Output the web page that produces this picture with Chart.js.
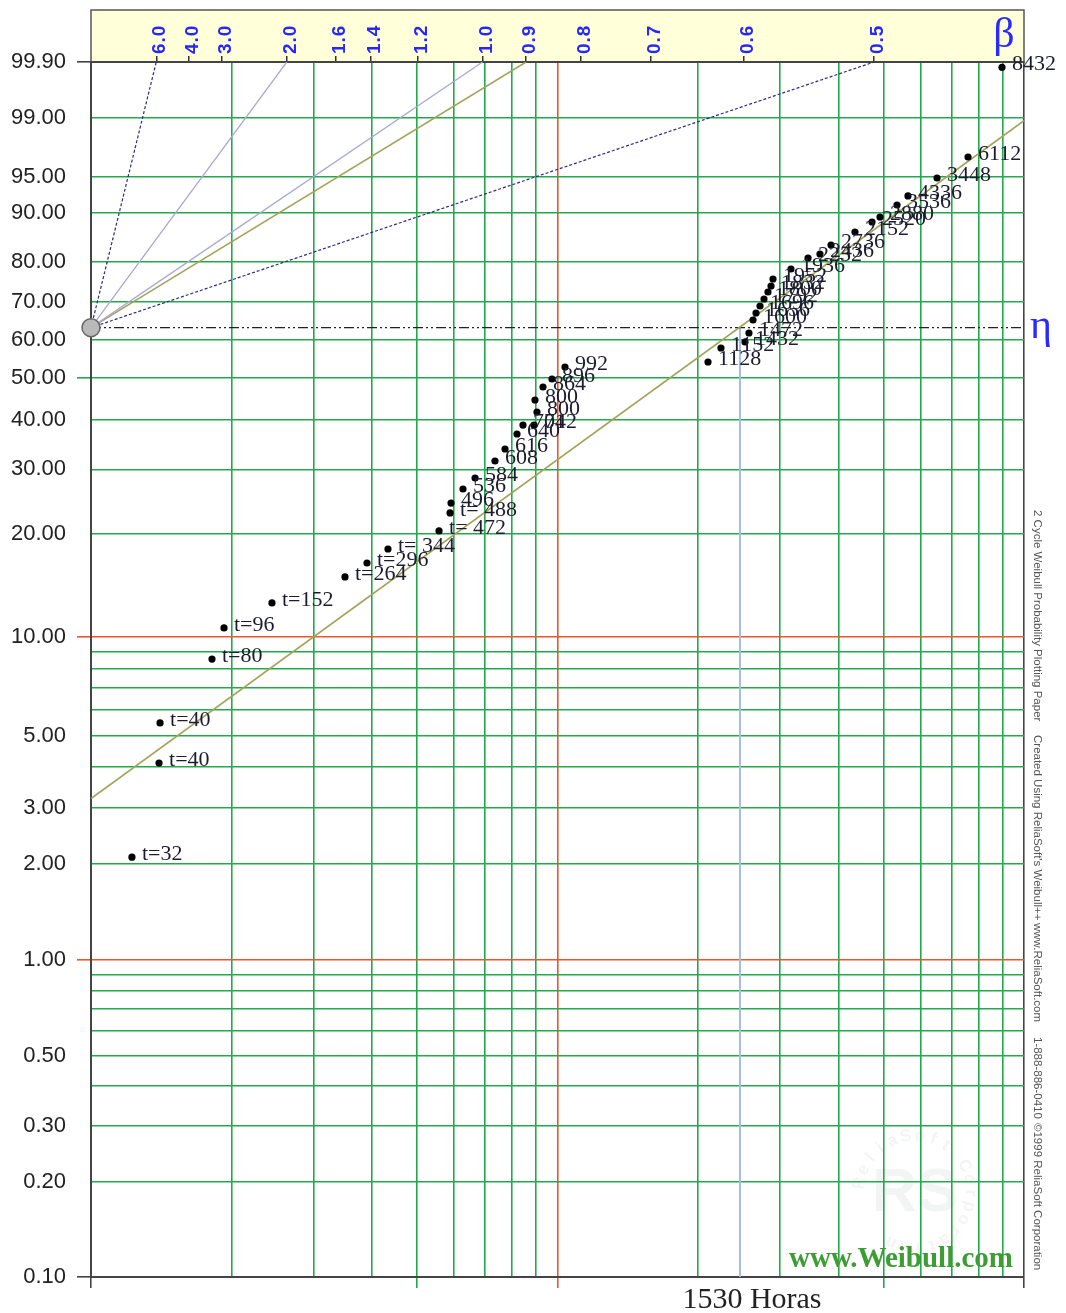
<!DOCTYPE html>
<html>
<head>
<meta charset="utf-8">
<title>Papel Weibull 2 ciclos</title>
<script src="https://cdn.jsdelivr.net/npm/chart.js@4.4.1/dist/chart.umd.min.js"></script>
<style>
  html, body { margin: 0; padding: 0; background: #fff; }
  #wrap { width: 1066px; height: 1313px; }
</style>
</head>
<body>
<div id="wrap"><canvas id="weibull" width="1066" height="1313"></canvas></div>
<script>
// Escala del papel
const X_MIN = 100;
const X_MAX = 10000;

// Lineas horizontales (% de falla) y sus etiquetas
const yGridPct = [99.9, 99, 95, 90, 80, 70, 60, 50, 40, 30, 20, 10, 9, 8, 7, 6, 5, 4, 3, 2, 1, 0.9, 0.8, 0.7, 0.6, 0.5, 0.4, 0.3, 0.2, 0.1];
const yTickLabels = ['99.90', '99.00', '95.00', '90.00', '80.00', '70.00', '60.00', '50.00', '40.00', '30.00', '20.00', '10.00', '', '', '', '', '5.00', '', '3.00', '2.00', '1.00', '', '', '', '', '0.50', '', '0.30', '0.20', '0.10'];
const yTickMarks = [99.9, 50, 10, 1, 0.1];

// Lineas verticales (2 ciclos)
const xGrid = [100, 200, 300, 400, 500, 600, 700, 800, 900, 1000, 2000, 3000, 4000, 5000, 6000, 7000, 8000, 9000, 10000];
const xTickMarks = [100, 500, 1000, 5000, 10000];

// Escala de beta (arriba)
const betaValues = [6.0, 4.0, 3.0, 2.0, 1.6, 1.4, 1.2, 1.0, 0.9, 0.8, 0.7, 0.6, 0.5];
const pivotBetas = [6.0, 2.0, 1.0, 0.9, 0.5];

// Eta
const etaPct = 63.21;
const etaX = 2461;
const etaLabel = '1530 Horas';

// Recta ajustada
const fitX = [100, 10000];
const fitPct = [3.2, 98.9];

// Puntos graficados
const pointX = [122.4, 139.9, 140.6, 181.7, 192.8, 244.3, 350.3, 390.5, 433.1, 557.2,
  588.4, 591.2, 627.2, 665.7, 734.5, 771.8, 818.8, 843.3, 890.4, 903.7,
  894.8, 930.9, 973.1, 1037.7,
  2102, 2241, 2523, 2573, 2625, 2664, 2717, 2771, 2826, 2869,
  2897, 3166, 3444, 3653, 3858, 4342, 4723, 4913, 5343, 5640,
  6510, 7586, 8971];
const pointPct = [2.10, 4.12, 5.48, 8.58, 10.64, 12.62, 15.04, 16.51, 18.11, 20.37,
  22.87, 24.35, 26.59, 28.46, 31.54, 33.87, 36.95, 38.88, 38.88, 41.80,
  44.60, 47.76, 49.75, 52.81,
  54.1, 57.78, 59.37, 61.78, 65.26, 67.12, 68.98, 70.82, 72.64, 74.17,
  75.94, 78.39, 80.98, 81.89, 83.87, 86.54, 88.43, 89.32, 91.29, 92.62,
  94.87, 96.86, 99.87];
const pointLabels = ['t=32', 't=40', 't=40', 't=80', 't=96', 't=152', 't=264', 't=296', 't= 344', 't= 472',
  't= 488', '496', '536', '584', '608', '616', '640', '704', '712', '800',
  '800', '864', '896', '992',
  '1128', '1152', '1432', '1472', '1600', '1656', '1696', '1792', '1800', '1832',
  '1952', '1936', '2232', '2436', '2736', '2152', '2520', '2880', '3536', '4336',
  '3448', '6112', '8432'];

const GREEN = '#22a94b';
const RED = '#f0542a';
const BORDER = '#444';

// Transformacion Weibull: ln(-ln(1-F))
const T = p => Math.log(-Math.log(1 - p / 100));
const betaPos = b => X_MIN * Math.exp(T(99.9) / b);

function hColor(i) {
    const p = yGridPct[i];
    if (p === 99.9 || p === 0.1) return BORDER;
    if (p === 10 || p === 1) return RED;
    return GREEN;
}

function vColor(v) {
    if (v === 100 || v === 10000) return BORDER;
    if (v === 1000) return RED;
    return GREEN;
}

// Lineas desde el pivote
const pivotStyles = {
    6.0: { color: '#2b2b86', dash: [3, 2], width: 1.2 },
    2.0: { color: '#a9a9d2', dash: [], width: 1.3 },
    1.0: { color: '#a9a9d2', dash: [], width: 1.3 },
    0.9: { color: '#a3a35c', dash: [], width: 1.6 },
    0.5: { color: '#2b2b86', dash: [3, 2], width: 1.2 }
};

const pivotDatasets = pivotBetas.map(b => ({
    data: [{ x: X_MIN, y: T(etaPct) }, { x: betaPos(b), y: T(99.9) }],
    showLine: true,
    pointRadius: 0,
    borderColor: pivotStyles[b].color,
    borderDash: pivotStyles[b].dash,
    borderWidth: pivotStyles[b].width
}));

// Dibujos extra del papel
const paperPlugin = {
    id: 'paper',
    beforeDraw(chart) {
        const ctx = chart.ctx;
        const a = chart.chartArea;
        ctx.save();
        ctx.fillStyle = '#fff';
        ctx.fillRect(0, 0, chart.width, chart.height);
        // banda amarilla de beta
        ctx.fillStyle = '#ffffd9';
        ctx.fillRect(a.left, 10, a.right - a.left, a.top - 10);
        ctx.strokeStyle = '#555';
        ctx.lineWidth = 1.5;
        ctx.beginPath();
        ctx.moveTo(a.left, a.top);
        ctx.lineTo(a.left, 10);
        ctx.lineTo(a.right, 10);
        ctx.lineTo(a.right, a.top);
        ctx.stroke();

        // marca de agua
        const cx = 915, cy = 1192;
        ctx.fillStyle = 'rgba(190, 205, 200, 0.2)';
        ctx.font = 'bold 17px "Liberation Sans"';
        ctx.textAlign = 'center';
        ctx.textBaseline = 'middle';
        const txt = 'ReliaSoft Corporation ';
        for (let i = 0; i < txt.length; i++) {
            const ang = -Math.PI * 0.95 + i * (Math.PI * 1.75 / txt.length);
            ctx.save();
            ctx.translate(cx + 56 * Math.cos(ang), cy + 56 * Math.sin(ang));
            ctx.rotate(ang + Math.PI / 2);
            ctx.fillText(txt[i], 0, 0);
            ctx.restore();
        }
        ctx.font = 'bold 62px "Liberation Sans"';
        ctx.fillText('RS', cx, cy + 2);
        ctx.restore();
    },
    afterDatasetsDraw(chart) {
        const ctx = chart.ctx;
        ctx.save();

        // etiquetas de beta
        const xb = chart.scales.xb;
        ctx.fillStyle = '#2626ff';
        ctx.font = 'bold 19px "Liberation Sans"';
        ctx.letterSpacing = '1px';
        ctx.textAlign = 'left';
        ctx.textBaseline = 'middle';
        xb.ticks.forEach((t, i) => {
            ctx.save();
            ctx.translate(xb.getPixelForValue(t.value) + 4, 54);
            ctx.rotate(-Math.PI / 2);
            ctx.fillText(betaValues[i].toFixed(1), 0, 0);
            ctx.restore();
        });
        ctx.letterSpacing = '0px';

        // etiquetas de los puntos
        const meta = chart.getDatasetMeta(0);
        ctx.font = '22px "Liberation Serif"';
        ctx.fillStyle = '#1c1c30';
        ctx.textAlign = 'left';
        ctx.textBaseline = 'alphabetic';
        meta.data.forEach((pt, i) => {
            ctx.fillText(pointLabels[i], pt.x + 10, pt.y + 3);
        });

        // beta y eta
        ctx.fillStyle = '#2a2aff';
        ctx.textAlign = 'center';
        ctx.font = '42px "Liberation Serif"';
        ctx.fillText('\u03B2', 1004, 47);
        const yEta = chart.scales.y.getPixelForValue(T(etaPct));
        ctx.fillText('\u03B7', 1041, yEta + 10);

        // horas de eta
        const xEta = chart.scales.x.getPixelForValue(etaX);
        ctx.fillStyle = '#222';
        ctx.font = '30px "Liberation Serif"';
        ctx.fillText(etaLabel, xEta + 12, 1308);

        // www.Weibull.com
        ctx.fillStyle = '#3e9c34';
        ctx.font = 'bold 29px "Liberation Serif"';
        ctx.textAlign = 'right';
        ctx.fillText('www.Weibull.com', 1013, 1267);

        // texto vertical
        ctx.fillStyle = '#555';
        ctx.font = '11.5px "Liberation Sans"';
        ctx.textAlign = 'left';
        ctx.textBaseline = 'middle';
        const credits = [
            ['2 Cycle Weibull Probability Plotting Paper', 510],
            ['Created Using ReliaSoft\'s Weibull++', 735],
            ['www.ReliaSoft.com', 923],
            ['1-888-886-0410', 1037],
            ['\u00A91999 ReliaSoft Corporation', 1123]
        ];
        credits.forEach(([s, y0]) => {
            ctx.save();
            ctx.translate(1037, y0);
            ctx.rotate(Math.PI / 2);
            ctx.fillText(s, 0, 0);
            ctx.restore();
        });
        ctx.restore();
    }
};

const ctxCanvas = document.getElementById('weibull').getContext('2d');
new Chart(ctxCanvas, {
    type: 'scatter',
    data: {
        datasets: [
            {
                data: pointX.map((x, i) => ({ x: x, y: T(pointPct[i]) })),
                pointRadius: 3.6,
                pointBackgroundColor: '#000',
                pointBorderWidth: 0
            },
            {
                data: [{ x: X_MIN, y: T(etaPct) }],
                pointRadius: 9,
                pointBackgroundColor: '#b9b9b9',
                pointBorderColor: '#666',
                pointBorderWidth: 1.5,
                clip: false
            },
            ...pivotDatasets,
            {
                data: fitX.map((x, i) => ({ x: x, y: T(fitPct[i]) })),
                showLine: true,
                pointRadius: 0,
                borderColor: '#a3a35c',
                borderWidth: 1.7
            },
            {
                data: [{ x: X_MIN, y: T(etaPct) }, { x: X_MAX, y: T(etaPct) }],
                showLine: true,
                pointRadius: 0,
                borderColor: '#222',
                borderWidth: 1.2,
                borderDash: [10, 3, 2, 3, 2, 3]
            },
            {
                data: [{ x: etaX, y: T(etaPct) }, { x: etaX, y: T(0.1) }],
                showLine: true,
                pointRadius: 0,
                borderColor: '#a4bde6',
                borderWidth: 2
            }
        ]
    },
    options: {
        responsive: false,
        animation: false,
        devicePixelRatio: 1,
        layout: { autoPadding: false, padding: { left: 0, right: 42, top: 0, bottom: 0 } },
        plugins: { legend: { display: false }, tooltip: { enabled: false } },
        scales: {
            x: {
                type: 'logarithmic',
                position: 'bottom',
                min: X_MIN,
                max: X_MAX,
                afterBuildTicks: s => { s.ticks = xGrid.map(v => ({ value: v })); },
                afterFit: s => { s.height = 36; },
                ticks: { display: false, autoSkip: false },
                grid: {
                    color: c => (c.tick ? vColor(c.tick.value) : GREEN),
                    lineWidth: 1.6,
                    tickLength: 11,
                    tickColor: c => (c.tick && xTickMarks.includes(c.tick.value) ? vColor(c.tick.value) : 'rgba(0,0,0,0)')
                },
                border: { color: BORDER, width: 2 }
            },
            xb: {
                type: 'logarithmic',
                position: 'top',
                min: X_MIN,
                max: X_MAX,
                afterBuildTicks: s => { s.ticks = betaValues.map(b => ({ value: betaPos(b) })); },
                afterFit: s => { s.height = 62; },
                ticks: { display: false, autoSkip: false },
                grid: { drawOnChartArea: false, tickLength: 6, color: '#333', lineWidth: 1.5 },
                border: { color: BORDER, width: 2 }
            },
            y: {
                type: 'linear',
                min: T(0.1),
                max: T(99.9),
                afterBuildTicks: s => { s.ticks = yGridPct.map(p => ({ value: T(p) })); },
                afterFit: s => { s.width = 91; },
                ticks: {
                    autoSkip: false,
                    padding: 11,
                    color: '#222',
                    font: { family: 'Liberation Sans', size: 22 },
                    callback: (v, i) => yTickLabels[i]
                },
                grid: {
                    color: c => hColor(c.index),
                    lineWidth: 1.6,
                    tickLength: 14,
                    tickColor: c => (yTickMarks.includes(yGridPct[c.index]) ? hColor(c.index) : 'rgba(0,0,0,0)')
                },
                border: { color: BORDER, width: 2 }
            }
        }
    },
    plugins: [paperPlugin]
});
</script>
</body>
</html>
